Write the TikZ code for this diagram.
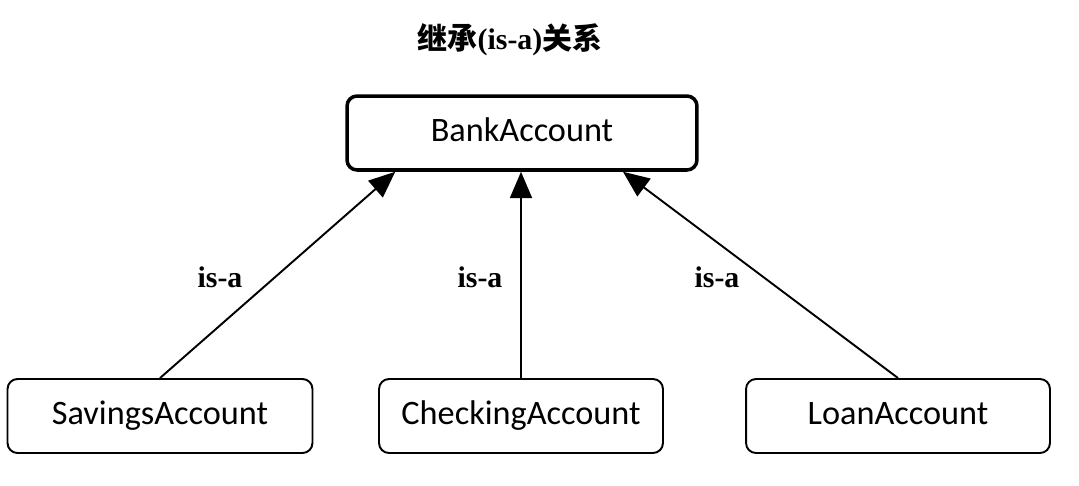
\documentclass[tikz,border=0pt]{standalone}
\usepackage{fontspec}
\setmainfont{Liberation Serif}
\newfontfamily\boxfont{Carlito}
\newfontfamily\cjk{Noto Sans CJK SC}
\usetikzlibrary{arrows.meta}

\tikzset{
  classbox/.style={draw, rounded corners=0.2cm, line width=1.1pt, minimum height=1.48cm,
    font=\boxfont\fontsize{19.5}{22}\selectfont, inner sep=0pt,
    text height=1.2em, text depth=0.2em},
  basebox/.style={classbox, line width=2pt},
  isa/.style={line width=1.1pt, -{Triangle[length=15pt,width=12.5pt]}},
  isalabel/.style={font=\bfseries\fontsize{17}{20}\selectfont}
}

\begin{document}
\begin{tikzpicture}[x=0.02cm, y=-0.02cm]

        \useasboundingbox (0,0) rectangle (1079,485);

        \node[font=\bfseries\fontsize{17}{20}\selectfont] (title) at (510,40)
          {{\cjk 继承}(is-a){\cjk 关系}};

        \node[basebox, minimum width=7cm] (bank) at (522,133) {BankAccount};

        \node[classbox, minimum width=6.1cm] (sav) at (160,416) {SavingsAccount};
        \node[classbox, minimum width=5.68cm] (chk) at (521,416) {CheckingAccount};
        \node[classbox, minimum width=6.08cm] (loan) at (898,416) {LoanAccount};

        \draw[isa] (sav.north) -- (bank.197.5);
        \draw[isa] (chk.north) -- (chk.north |- bank.south);
        \draw[isa] (loan.north) -- (bank.339.3);

        \node[isalabel] (isa1) at (220,277) {is-a};
        \node[isalabel] (isa2) at (480,277) {is-a};
        \node[isalabel] (isa3) at (717,277) {is-a};

\end{tikzpicture}
\end{document}
